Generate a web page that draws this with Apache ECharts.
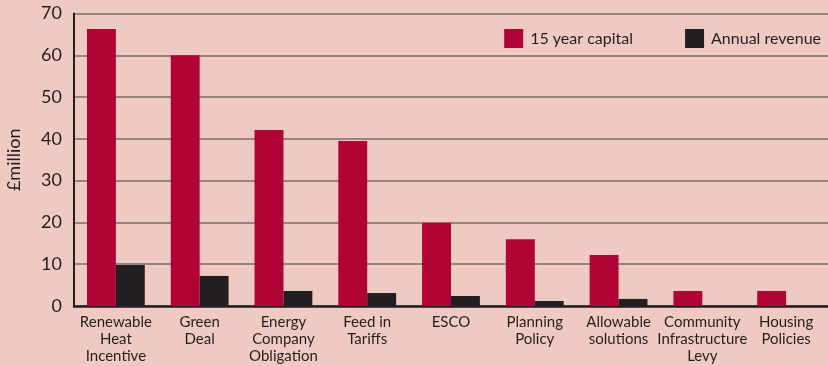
<!DOCTYPE html>
<html>
<head>
<meta charset="utf-8">
<script src="https://cdn.jsdelivr.net/npm/echarts@6/dist/echarts.min.js"></script>
<style>
  html, body { margin: 0; padding: 0; background: #EFCAC3; }
  #chart { width: 828px; height: 366px; }
</style>
</head>
<body>
<div id="chart"></div>
<script>
// Funding streams (£million)
const categories = [
  'Renewable\nHeat\nIncentive',
  'Green\nDeal',
  'Energy\nCompany\nObligation',
  'Feed in\nTariffs',
  'ESCO',
  'Planning\nPolicy',
  'Allowable\nsolutions',
  'Community\nInfrastructure\nLevy',
  'Housing\nPolicies'
];
const capital15Year = [66.3, 60.0, 42.1, 39.5, 19.9, 16.0, 12.2, 3.6, 3.6];
const annualRevenue = [9.8, 7.2, 3.6, 3.1, 2.4, 1.2, 1.7, 0, 0];
const yTicks = { min: 0, max: 70, interval: 10 };

const font = 'Lato, "Open Sans", sans-serif';
const chart = echarts.init(document.getElementById('chart'), null, { renderer: 'canvas' });

chart.setOption({
  backgroundColor: '#EFCAC3',
  animation: false,
  textStyle: { fontFamily: font, color: '#231F20' },
  grid: { left: 74, right: 0, top: 13.5, bottom: 60, containLabel: false, outerBoundsMode: 'none' },
  legend: {
    top: 24,
    right: 2,
    icon: 'rect',
    itemWidth: 19,
    itemHeight: 19,
    itemGap: 52,
    textStyle: { fontFamily: font, fontSize: 16, color: '#231F20', padding: [0, 0, 0, 2] },
    data: ['15 year capital', 'Annual revenue']
  },
  xAxis: {
    type: 'category',
    data: categories,
    axisTick: { show: false },
    axisLine: { lineStyle: { color: '#231F20', width: 2.5 } },
    axisLabel: {
      interval: 0,
      fontFamily: font,
      fontSize: 15,
      lineHeight: 17,
      color: '#231F20',
      margin: 8
    }
  },
  yAxis: {
    type: 'value',
    min: yTicks.min,
    max: yTicks.max,
    interval: yTicks.interval,
    name: '£million',
    nameLocation: 'middle',
    nameGap: 51,
    nameTextStyle: { fontFamily: font, fontSize: 18, color: '#231F20' },
    axisLine: { show: true, lineStyle: { color: '#231F20', width: 2 } },
    axisTick: { show: false },
    axisLabel: { fontFamily: font, fontSize: 18, color: '#231F20', margin: 12 },
    splitLine: { lineStyle: { color: '#7A6D6B', width: 1.5 } }
  },
  series: [
    {
      name: '15 year capital',
      type: 'bar',
      data: capital15Year,
      barGap: '0%',
      barCategoryGap: '31%',
      itemStyle: { color: '#B00336' }
    },
    {
      name: 'Annual revenue',
      type: 'bar',
      data: annualRevenue,
      itemStyle: { color: '#231F20' }
    }
  ]
});
</script>
</body>
</html>
